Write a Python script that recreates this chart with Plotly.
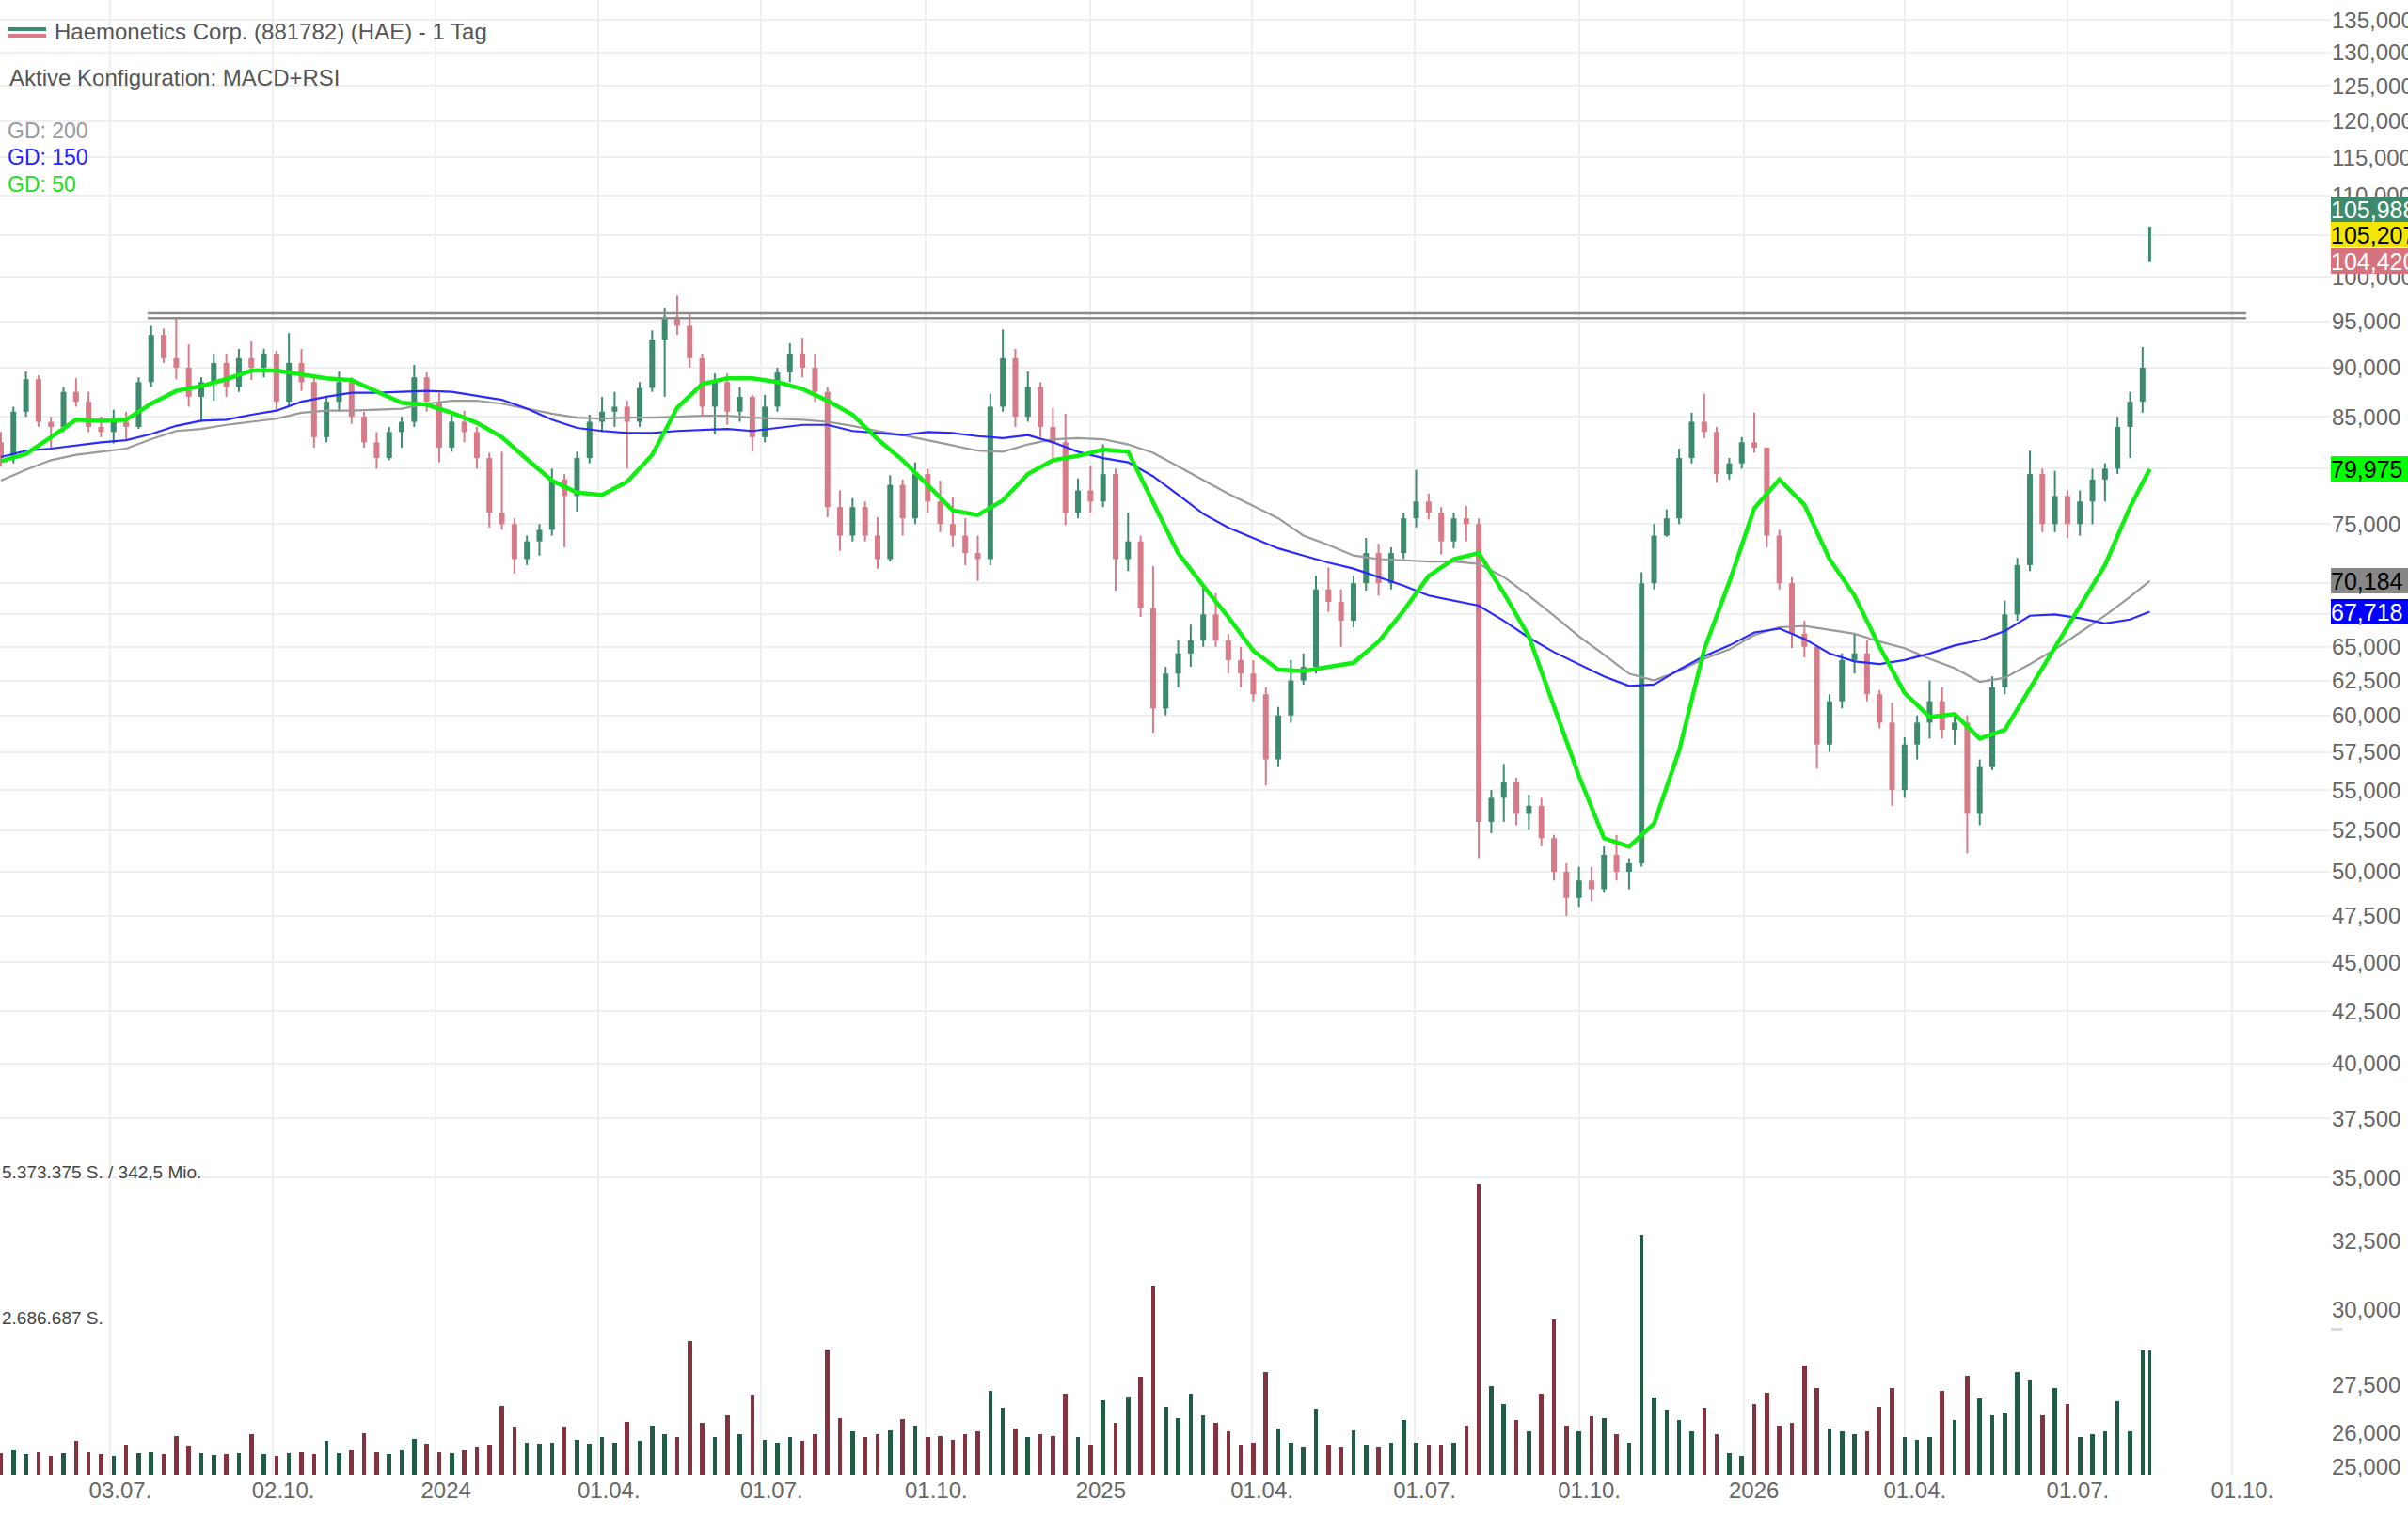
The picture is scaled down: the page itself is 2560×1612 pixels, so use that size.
import math
import pandas as pd
import plotly.graph_objects as go

# ---------------- data (weekly candles, USD) ----------------
week_start = "2023-05-03"

open_ = [82.5, 81.0, 85.5, 88.8, 84.5, 84.0, 87.5, 86.5, 84.0, 83.5,
         84.5, 84.0, 88.5, 93.5, 91.0, 90.0, 87.0, 88.5, 90.5, 88.0,
         91.0, 90.0, 91.5, 86.5, 90.5, 88.5, 83.0, 86.5, 88.5, 85.0,
         82.5, 81.0, 83.5, 84.5, 89.0, 86.5, 82.0, 84.5, 83.5, 81.0,
         76.0, 75.0, 72.0, 73.5, 74.5, 79.0, 77.5, 81.0, 84.5, 85.5,
         86.0, 84.5, 87.9, 93.0, 95.5, 94.5, 91.0, 86.0, 88.5, 85.5,
         87.0, 83.0, 86.0, 89.5, 91.5, 90.0, 87.5, 76.5, 74.0, 76.5,
         74.0, 72.0, 78.5, 75.5, 79.5, 77.0, 75.0, 74.0, 72.5, 72.0,
         86.0, 91.0, 85.0, 88.0, 84.0, 82.5, 76.0, 78.0, 77.0, 79.5,
         72.0, 73.5, 68.0, 60.5, 63.0, 64.5, 65.5, 67.5, 65.5, 64.0,
         63.0, 61.5, 57.0, 60.0, 62.5, 63.5, 69.5, 68.5, 67.0, 70.0,
         72.5, 70.0, 72.5, 75.5, 77.0, 76.0, 73.5, 75.5, 75.0, 53.0,
         54.5, 55.5, 53.5, 54.0, 52.0, 50.0, 48.5, 49.5, 49.0, 51.0,
         50.0, 50.5, 70.0, 74.0, 75.5, 81.0, 84.5, 83.5, 79.5, 80.5,
         82.5, 82.0, 74.0, 70.0, 66.0, 65.0, 58.0, 61.0, 64.0, 64.5,
         61.5, 59.5, 55.0, 58.0, 59.5, 61.0, 59.0, 59.5, 53.5, 56.5,
         62.0, 67.5, 71.5, 79.5, 75.0, 77.5, 75.0, 77.0, 79.0, 80.0,
         84.0, 86.5]

high = [83.5, 86.0, 89.6, 89.2, 85.0, 88.0, 88.9, 87.5, 85.0, 85.7,
        85.5, 89.0, 94.5, 94.2, 95.3, 92.5, 89.0, 91.5, 91.5, 92.0,
        92.8, 92.0, 91.8, 93.7, 92.0, 89.0, 87.0, 89.6, 89.0, 85.5,
        83.5, 84.0, 85.0, 90.3, 89.5, 87.4, 85.2, 85.6, 84.0, 81.5,
        81.6, 75.5, 74.0, 75.0, 80.0, 79.5, 81.6, 85.2, 87.0, 87.5,
        86.6, 88.5, 94.0, 96.5, 97.9, 96.0, 91.5, 89.4, 89.4, 88.0,
        87.2, 87.2, 90.0, 92.6, 93.2, 91.5, 88.0, 78.0, 77.3, 77.0,
        75.6, 79.4, 79.0, 80.6, 80.0, 78.9, 77.4, 75.5, 74.0, 87.3,
        94.1, 92.0, 89.6, 88.5, 85.9, 85.3, 79.1, 80.3, 82.3, 80.0,
        76.0, 74.0, 71.4, 63.5, 65.5, 66.7, 69.7, 69.2, 66.0, 65.0,
        64.0, 62.0, 60.6, 64.0, 64.5, 70.6, 71.3, 69.5, 70.6, 73.8,
        73.3, 73.0, 76.0, 79.9, 77.7, 76.5, 76.0, 76.6, 75.5, 55.0,
        56.7, 55.8, 54.7, 54.5, 52.2, 50.5, 50.3, 50.3, 51.5, 52.2,
        50.8, 70.9, 75.0, 76.3, 81.9, 85.4, 87.3, 84.0, 81.0, 83.0,
        85.4, 82.0, 74.5, 70.5, 67.0, 65.0, 61.5, 64.5, 66.0, 65.5,
        61.8, 60.9, 58.5, 60.0, 62.5, 62.0, 60.2, 60.0, 57.0, 62.8,
        68.6, 72.1, 81.7, 80.0, 79.8, 78.0, 78.0, 80.0, 80.5, 85.0,
        87.5, 92.2]

low = [80.2, 80.5, 85.0, 84.0, 82.0, 83.5, 86.0, 83.5, 83.0, 82.4,
       82.8, 83.8, 88.0, 90.5, 88.8, 86.0, 84.5, 86.6, 87.0, 87.5,
       88.7, 89.0, 85.7, 86.0, 87.6, 82.0, 82.5, 85.5, 84.3, 82.0,
       80.0, 80.8, 82.0, 84.0, 85.5, 80.6, 81.6, 82.5, 80.0, 74.7,
       74.5, 70.8, 71.5, 72.3, 74.0, 73.0, 76.1, 80.5, 83.5, 84.0,
       80.0, 84.0, 87.5, 87.0, 93.5, 90.0, 85.0, 83.3, 84.2, 84.5,
       81.6, 82.5, 85.5, 88.5, 89.0, 86.5, 75.6, 72.7, 73.5, 73.5,
       71.2, 71.8, 74.0, 75.0, 76.0, 74.3, 73.0, 71.5, 70.2, 71.5,
       85.5, 84.0, 84.5, 83.0, 80.5, 74.9, 75.5, 76.0, 76.5, 69.4,
       71.0, 67.3, 58.8, 60.0, 62.0, 63.5, 65.0, 65.0, 63.0, 62.0,
       61.0, 55.3, 56.5, 59.5, 62.2, 63.0, 67.7, 65.0, 66.5, 69.4,
       69.0, 69.5, 72.0, 74.7, 75.4, 72.4, 72.9, 73.5, 50.8, 52.3,
       53.0, 52.8, 52.5, 51.5, 49.5, 47.5, 48.0, 48.3, 48.8, 49.5,
       49.0, 50.3, 69.5, 73.9, 75.0, 80.5, 82.9, 78.7, 79.0, 80.0,
       81.5, 73.0, 69.5, 64.9, 64.2, 56.4, 57.5, 60.5, 63.0, 61.0,
       59.1, 54.0, 54.5, 57.0, 58.4, 58.4, 58.0, 51.1, 52.8, 56.3,
       61.5, 67.0, 71.0, 74.3, 74.3, 73.8, 74.0, 75.0, 77.0, 79.5,
       81.0, 85.4]

close = [81.0, 85.5, 88.8, 84.5, 84.0, 87.5, 86.5, 84.0, 83.5, 84.5,
         84.0, 88.5, 93.5, 91.0, 90.0, 87.0, 88.5, 90.5, 88.0, 91.0,
         90.0, 91.5, 86.5, 90.5, 88.5, 83.0, 86.5, 88.5, 85.0, 82.5,
         81.0, 83.5, 84.5, 89.0, 86.5, 82.0, 84.5, 83.5, 81.0, 76.0,
         75.0, 72.0, 73.5, 74.5, 79.0, 77.5, 81.0, 84.5, 85.5, 86.0,
         84.5, 87.9, 93.0, 95.5, 94.5, 91.0, 86.0, 88.5, 85.5, 87.0,
         83.0, 86.0, 89.5, 91.5, 90.0, 87.5, 76.5, 74.0, 76.5, 74.0,
         72.0, 78.5, 75.5, 79.5, 77.0, 75.0, 74.0, 72.5, 72.0, 86.0,
         91.0, 85.0, 88.0, 84.0, 82.5, 76.0, 78.0, 77.0, 79.5, 72.0,
         73.5, 68.0, 60.5, 63.0, 64.5, 65.5, 67.5, 65.5, 64.0, 63.0,
         61.5, 57.0, 60.0, 62.5, 63.5, 69.5, 68.5, 67.0, 70.0, 72.5,
         70.0, 72.5, 75.5, 77.0, 76.0, 73.5, 75.5, 75.0, 53.0, 54.5,
         55.5, 53.5, 54.0, 52.0, 50.0, 48.5, 49.5, 49.0, 51.0, 50.0,
         50.5, 70.0, 74.0, 75.5, 81.0, 84.5, 83.5, 79.5, 80.5, 82.5,
         82.0, 74.0, 70.0, 66.0, 65.0, 58.0, 61.0, 64.0, 64.5, 61.5,
         59.5, 55.0, 58.0, 59.5, 61.0, 59.0, 59.5, 53.5, 56.5, 62.0,
         67.5, 71.5, 79.5, 75.0, 77.5, 75.0, 77.0, 79.0, 80.0, 84.0,
         86.5, 90.0]

# weekly peak daily volume, million shares
volume_mio = [0.40, 0.45, 0.38, 0.42, 0.35, 0.40, 0.63, 0.42, 0.38, 0.35,
              0.56, 0.40, 0.42, 0.38, 0.71, 0.53, 0.40, 0.36, 0.38, 0.40,
              0.74, 0.38, 0.35, 0.40, 0.42, 0.38, 0.62, 0.40, 0.45, 0.77,
              0.42, 0.38, 0.45, 0.66, 0.58, 0.42, 0.40, 0.45, 0.50, 0.55,
              1.27, 0.89, 0.60, 0.57, 0.60, 0.89, 0.65, 0.58, 0.70, 0.60,
              0.97, 0.62, 0.90, 0.75, 0.70, 2.47, 0.96, 0.70, 1.10, 0.75,
              1.47, 0.65, 0.60, 0.70, 0.62, 0.75, 2.31, 1.04, 0.80, 0.70,
              0.75, 0.82, 1.03, 0.91, 0.70, 0.72, 0.65, 0.75, 0.80, 1.54,
              1.23, 0.85, 0.70, 0.75, 0.72, 1.50, 0.70, 0.55, 1.37, 0.95,
              1.44, 1.80, 3.49, 1.25, 1.05, 1.49, 1.10, 0.95, 0.80, 0.55,
              0.60, 1.90, 0.85, 0.60, 0.50, 1.21, 0.55, 0.50, 0.81, 0.55,
              0.50, 0.60, 1.00, 0.60, 0.55, 0.55, 0.60, 0.90, 5.373375, 1.63,
              1.30, 1.00, 0.80, 1.50, 2.87, 0.90, 0.80, 1.08, 1.04, 0.75,
              0.60, 4.43, 1.43, 1.20, 1.00, 0.80, 1.23, 0.75, 0.40, 0.35,
              1.31, 1.51, 0.90, 0.95, 2.02, 1.60, 0.85, 0.80, 0.75, 0.80,
              1.25, 1.60, 0.70, 0.65, 0.70, 1.54, 1.00, 1.82, 1.41, 1.10,
              1.15, 1.89, 1.75, 1.10, 1.60, 1.31, 0.70, 0.75, 0.80, 1.35,
              0.80, 2.30]

# moving averages sampled every second week, plus the last quote day
gd50 = [80.7, 81.4, 83.0, 84.7, 84.6, 84.7, 86.3, 87.6, 88.1, 88.8,
        89.7, 89.7, 89.3, 88.9, 88.7, 87.6, 86.4, 86.2, 85.4, 84.4,
        83.0, 80.9, 78.9, 77.8, 77.6, 78.8, 81.3, 85.9, 88.3, 88.9,
        88.9, 88.5, 87.8, 86.6, 85.2, 82.8, 80.8, 78.5, 76.2, 75.8,
        77.1, 79.5, 80.8, 81.2, 81.8, 81.6, 76.9, 72.5, 69.8, 67.3,
        64.7, 63.3, 63.2, 63.5, 63.8, 65.4, 67.8, 70.6, 72.0, 72.5,
        69.2, 65.8, 60.6, 55.9, 52.0, 51.5, 52.9, 57.6, 64.8, 70.1,
        76.4, 79.0, 76.7, 72.0, 69.0, 65.0, 61.6, 59.9, 60.1, 58.4,
        59.0, 61.9, 64.9, 68.0, 71.5, 76.5, 79.975]

gd150 = [81.1, 81.7, 81.9, 82.2, 82.5, 82.7, 83.3, 84.1, 84.6, 84.7,
         85.2, 85.6, 86.5, 87.0, 87.4, 87.4, 87.5, 87.6, 87.5, 87.1,
         86.7, 85.8, 84.7, 83.9, 83.6, 83.4, 83.4, 83.6, 83.7, 83.8,
         83.6, 83.9, 84.2, 84.2, 83.6, 83.4, 83.2, 83.5, 83.4, 83.1,
         82.9, 83.2, 82.5, 81.6, 81.0, 80.6, 79.3, 77.6, 75.9, 74.7,
         73.8, 72.9, 72.3, 71.7, 71.2, 70.5, 69.8, 69.0, 68.6, 68.2,
         67.0, 65.7, 64.6, 63.7, 62.8, 62.1, 62.2, 63.3, 64.3, 65.1,
         66.1, 66.4, 65.6, 64.5, 63.9, 63.7, 64.0, 64.5, 65.1, 65.5,
         66.2, 67.4, 67.5, 67.2, 66.8, 67.1, 67.718]

gd200 = [78.9, 79.9, 80.8, 81.3, 81.6, 81.9, 82.8, 83.6, 83.8, 84.2,
         84.5, 84.8, 85.4, 85.6, 85.6, 85.7, 85.8, 86.3, 86.6, 86.6,
         86.3, 85.8, 85.3, 84.9, 84.8, 84.9, 84.9, 85.0, 85.1, 85.1,
         84.9, 84.8, 84.7, 84.5, 84.1, 83.6, 83.2, 82.7, 82.2, 81.7,
         81.6, 82.3, 82.8, 82.9, 82.8, 82.3, 81.5, 80.2, 78.9, 77.7,
         76.6, 75.5, 74.0, 73.2, 72.3, 72.0, 71.9, 71.8, 71.8, 71.6,
         70.5, 69.0, 67.4, 65.8, 64.4, 63.0, 62.5, 63.2, 64.1, 64.8,
         65.9, 66.5, 66.6, 66.3, 66.0, 65.4, 64.9, 64.1, 63.4, 62.4,
         62.7, 63.7, 64.8, 66.1, 67.4, 68.9, 70.184]

# current quote
quote_date = "2026-08-16"
quote_low, quote_high = 101.8, 106.1
quote_ask, quote_last, quote_bid = 105.988, 105.207, 104.420

# horizontal resistance lines
resistance_levels = [95.9, 95.35]
resistance_dates = ["2023-07-24", "2026-10-09"]

# axis ticks
price_ticks = [135, 130, 125, 120, 115, 110, 105, 100, 95, 90, 85, 80, 75, 70,
               67.5, 65, 62.5, 60, 57.5, 55, 52.5, 50, 47.5, 45, 42.5, 40,
               37.5, 35, 32.5, 30, 27.5, 26, 25]
date_ticks = ["2023-07-03", "2023-10-02", "2024-01-01", "2024-04-01", "2024-07-01",
              "2024-10-01", "2025-01-01", "2025-04-01", "2025-07-01", "2025-10-01",
              "2026-01-01", "2026-04-01", "2026-07-01", "2026-10-01"]
date_labels = ["03.07.", "02.10.", "2024", "01.04.", "01.07.", "01.10.", "2025",
               "01.04.", "01.07.", "01.10.", "2026", "01.04.", "01.07.", "01.10."]

turnover_text = "342,5 Mio."

# ---------------- styling ----------------
W, H = 2560, 1612
ML, MR, MT, MB = 0, 82, 0, 44
PW, PH = W - ML - MR, H - MT - MB
FONT = "Liberation Sans, Arial, Helvetica, sans-serif"
UP = "#3d8b6d"
DN = "#d67b87"
VUP = "#1f5c43"
VDN = "#83323f"
GRID = "#efeff1"


def de_num(v, nd=3):
    return f"{v:,.{nd}f}".replace(",", "X").replace(".", ",").replace("X", ".")


def px_x(p):
    return p / PW


def px_y(p):
    return 1 - p / PH


dates = pd.date_range(week_start, periods=len(close), freq="7D")
ma_dates = list(dates[::2]) + [pd.Timestamp(quote_date)]
volume = [v * 1e6 for v in volume_mio]
vmax = max(volume)

fig = go.Figure()

# volume bars
vcols = [VUP if c >= o else VDN for o, c in zip(open_, close)]
fig.add_trace(go.Bar(x=dates, y=volume, yaxis="y2", width=2.4 * 86400000,
                     marker=dict(color=vcols, line=dict(width=0)),
                     hoverinfo="skip", showlegend=False))
fig.add_trace(go.Bar(x=[pd.Timestamp(quote_date)], y=[volume[-1]], yaxis="y2",
                     width=1.2 * 86400000, marker=dict(color=VUP, line=dict(width=0)),
                     hoverinfo="skip", showlegend=False))

# candles as wick + body segments
seg = {"up": ([], [], [], []), "dn": ([], [], [], [])}
for d, o, h, l, c in zip(dates, open_, high, low, close):
    wx, wy, bx, by = seg["up" if c >= o else "dn"]
    wx += [d, d, None]
    wy += [l, h, None]
    bx += [d, d, None]
    by += [min(o, c), max(o, c) if abs(c - o) > 0.15 else min(o, c) + 0.3, None]
for key, col in (("up", UP), ("dn", DN)):
    wx, wy, bx, by = seg[key]
    fig.add_trace(go.Scatter(x=wx, y=wy, mode="lines", line=dict(color=col, width=2),
                             hoverinfo="skip", showlegend=False))
    fig.add_trace(go.Scatter(x=bx, y=by, mode="lines", line=dict(color=col, width=6),
                             hoverinfo="skip", showlegend=False))

# quote line
fig.add_trace(go.Scatter(x=[quote_date, quote_date], y=[quote_low, quote_high], mode="lines",
                         line=dict(color=UP, width=3), hoverinfo="skip", showlegend=False))

# moving averages
fig.add_trace(go.Scatter(x=ma_dates, y=gd200, mode="lines", line=dict(color="#9a9a9a", width=2.2),
                         hoverinfo="skip", showlegend=False))
fig.add_trace(go.Scatter(x=ma_dates, y=gd150, mode="lines", line=dict(color="#2a2aff", width=2.2),
                         hoverinfo="skip", showlegend=False))
fig.add_trace(go.Scatter(x=ma_dates, y=gd50, mode="lines", line=dict(color="#11ee11", width=4.5),
                         hoverinfo="skip", showlegend=False))

# resistance lines
for lvl in resistance_levels:
    fig.add_trace(go.Scatter(x=resistance_dates, y=[lvl, lvl], mode="lines",
                             line=dict(color="#8c8c8c", width=2.5),
                             hoverinfo="skip", showlegend=False))

annotations = []
# value boxes on the right
boxes = [(quote_ask, UP, "white", 19), (quote_last, "#f2e600", "black", -1),
         (quote_bid, "#d6737f", "white", -22),
         (gd50[-1], "#00ff00", "black", 0), (gd200[-1], "#878787", "black", 0),
         (gd150[-1], "#0000ff", "white", 0)]
for v, bg, fc, ys in boxes:
    annotations.append(dict(xref="paper", yref="y", x=1, y=math.log10(v), xanchor="left",
                            yanchor="middle", yshift=ys, text=de_num(v), showarrow=False,
                            bgcolor=bg, font=dict(color=fc, size=25, family=FONT),
                            width=100, height=27, align="left", borderpad=0, borderwidth=0))

# header texts
annotations.append(dict(xref="paper", yref="paper", x=px_x(56), y=px_y(34), xanchor="left",
                        yanchor="middle", text="Haemonetics Corp. (881782) (HAE) - 1 Tag",
                        showarrow=False, font=dict(color="#555555", size=24, family=FONT)))
annotations.append(dict(xref="paper", yref="paper", x=px_x(8), y=px_y(83), xanchor="left",
                        yanchor="middle", text="Aktive Konfiguration: MACD+RSI",
                        showarrow=False, font=dict(color="#555555", size=24, family=FONT)))
for txt, col, yy in (("GD: 200", "#999999", 139), ("GD: 150", "#2222ff", 167),
                     ("GD: 50", "#22dd22", 196)):
    annotations.append(dict(xref="paper", yref="paper", x=px_x(6), y=px_y(yy), xanchor="left",
                            yanchor="middle", text=txt, showarrow=False,
                            font=dict(color=col, size=23, family=FONT)))

# volume labels
annotations.append(dict(xref="paper", yref="y2", x=0, y=vmax, xanchor="left", yanchor="bottom",
                        text=de_num(vmax, 0) + " S. / " + turnover_text, showarrow=False,
                        font=dict(color="#444444", size=19, family=FONT)))
annotations.append(dict(xref="paper", yref="y2", x=0, y=vmax / 2, xanchor="left", yanchor="bottom",
                        text=de_num(math.floor(vmax / 2), 0) + " S.", showarrow=False,
                        font=dict(color="#444444", size=19, family=FONT)))

shapes = [
    dict(type="line", xref="paper", yref="y2", x0=0, x1=1, y0=vmax, y1=vmax,
         line=dict(color="#d9d9de", width=3), layer="below"),
    dict(type="line", xref="paper", yref="y2", x0=0, x1=1.005, y0=vmax / 2, y1=vmax / 2,
         line=dict(color="#d9d9de", width=3), layer="below"),
    dict(type="line", xref="paper", yref="paper", x0=px_x(8), x1=px_x(49), y0=px_y(31), y1=px_y(31),
         line=dict(color=UP, width=4)),
    dict(type="line", xref="paper", yref="paper", x0=px_x(8), x1=px_x(49), y0=px_y(38), y1=px_y(38),
         line=dict(color=DN, width=4)),
]

vol_frac = (PH - 1259) / PH

fig.update_layout(
    template="none",
    width=W, height=H,
    margin=dict(l=ML, r=MR, t=MT, b=MB, pad=0),
    paper_bgcolor="white", plot_bgcolor="white",
    font=dict(family=FONT, size=24, color="#666666"),
    showlegend=False,
    bargap=0,
    annotations=annotations,
    shapes=shapes,
    xaxis=dict(type="date", range=["2023-05-02 12:00", "2026-11-25 06:00"],
               tickvals=date_ticks, ticktext=date_labels, showgrid=True,
               gridcolor=GRID, gridwidth=2, zeroline=False, showline=False, ticks="",
               tickfont=dict(size=24, color="#666666", family=FONT),
               ticklabelshift=11, automargin=False, fixedrange=True),
    yaxis=dict(type="log", range=[math.log10(24.76), math.log10(138.175)], side="right",
               tickvals=price_ticks, ticktext=[de_num(v) for v in price_ticks],
               showgrid=True, gridcolor=GRID, gridwidth=2, zeroline=False, showline=False,
               ticks="", tickfont=dict(size=24, color="#666666", family=FONT),
               automargin=False, fixedrange=True),
    yaxis2=dict(domain=[0, vol_frac], range=[0, vmax], visible=False, anchor="x",
                fixedrange=True),
)

fig.write_html("out.html", config={"displayModeBar": False},
               post_script="document.body.style.margin='0';")
